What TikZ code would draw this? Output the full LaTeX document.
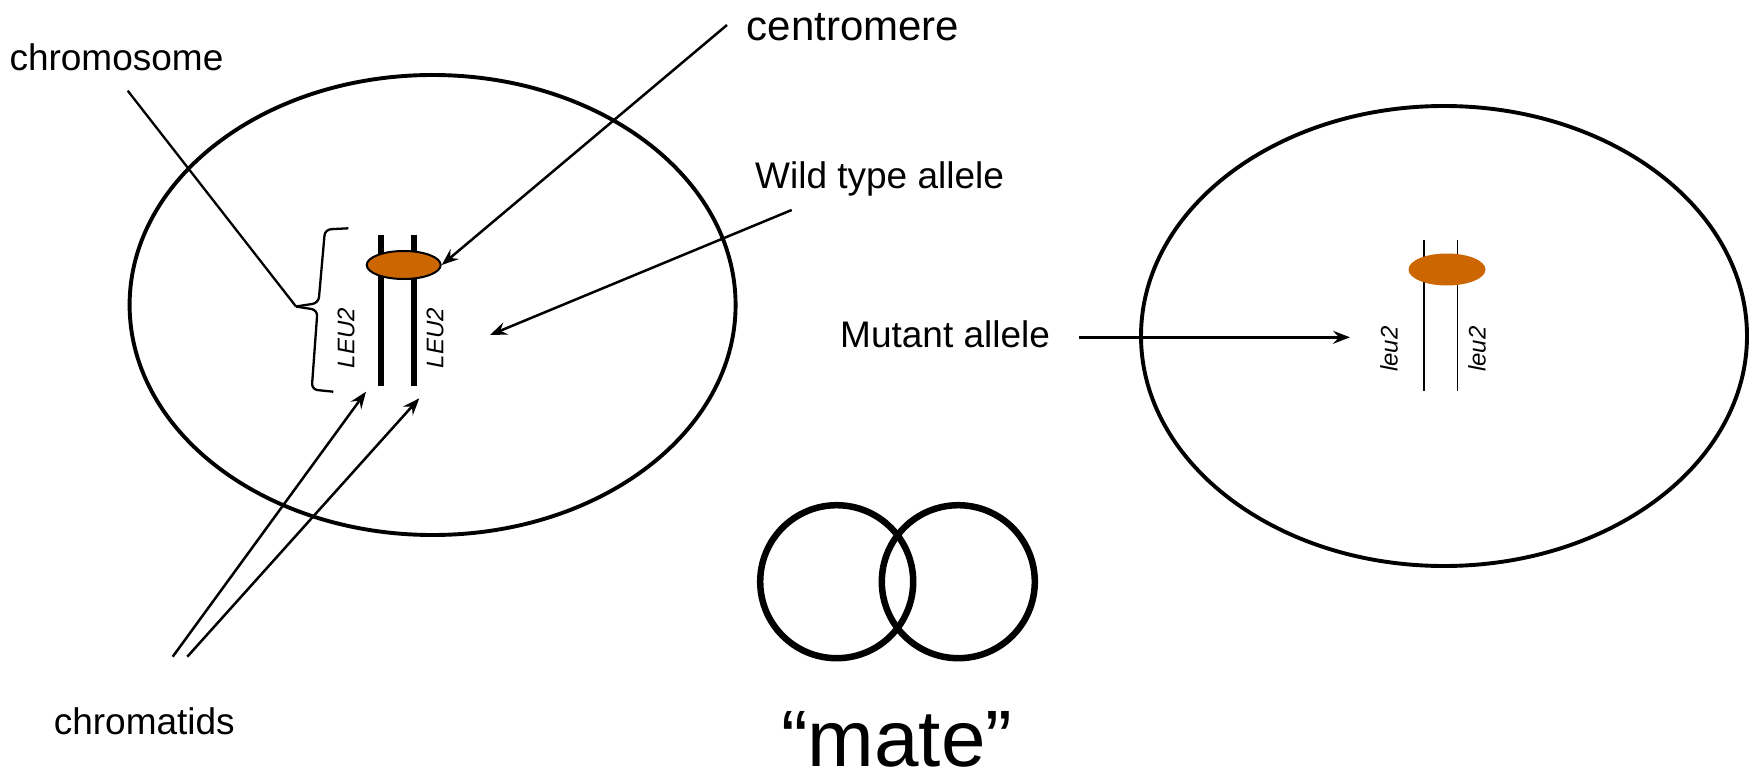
\documentclass[tikz,border=0pt]{standalone}
\usepackage{fontspec}
\setmainfont{Liberation Sans}
\usetikzlibrary{shapes.geometric,arrows.meta}
\definecolor{centro}{HTML}{CC6600}

\begin{document}
\begin{tikzpicture}[x=1pt,y=-1pt,
  lbl/.style={inner sep=0pt, anchor=base west, font=\fontsize{37}{44}\selectfont},
  gene/.style={inner sep=0pt, rotate=90, font=\fontsize{24}{28}\selectfont\itshape},
  cell/.style={draw, ellipse, line width=3.9pt, minimum width=606pt, minimum height=460pt, inner sep=0pt},
  ptr/.style={line width=2.5pt, -{Stealth[length=17pt,width=13pt,inset=6pt]}},
  thin line/.style={line width=2.3pt},
  ring/.style={draw, circle, line width=6.5pt, minimum size=153pt, inner sep=0pt}
]
\useasboundingbox (0,0) rectangle (1752,778);

% the two cells
\node[cell] (cellA) at (432.6,305) {};
\node[cell] (cellB) at (1444,336) {};

% chromatids of the wild type cell
\coordinate (a1top) at (381,235);  \coordinate (a1bot) at (381,386);
\coordinate (a2top) at (414,235);  \coordinate (a2bot) at (414,386);
\draw[line width=5.7pt] (a1top) -- (a1bot);
\draw[line width=5.7pt] (a2top) -- (a2bot);
\node[ellipse, draw, line width=2pt, fill=centro, minimum width=74pt, minimum height=28pt, inner sep=0pt] (cenA) at (403.7,265) {};

% chromatids of the mutant cell
\coordinate (b1top) at (1424.3,240); \coordinate (b1bot) at (1424.3,390.7);
\coordinate (b2top) at (1457.3,240); \coordinate (b2bot) at (1457.3,390.7);
\draw[line width=1.9pt] (b1top) -- (b1bot);
\draw[line width=1.5pt] (b2top) -- (b2bot);
\node[ellipse, fill=centro, minimum width=77pt, minimum height=32pt, inner sep=0pt] (cenB) at (1447,269.5) {};

% gene labels
\node[gene] (leuA1) at (346,338) {LEU2};
\node[gene] (leuA2) at (435,338) {LEU2};
\node[gene] (leuB1) at (1389,349) {leu2};
\node[gene] (leuB2) at (1477,349) {leu2};

% brace around the chromosome
\coordinate (bracetip) at (296,306.5);
\draw[thin line, rounded corners=6pt] (348.3,228.3) -- (325,229.5) -- (318.5,303) -- (bracetip);
\draw[thin line, rounded corners=6pt] (bracetip) -- (317.5,310) -- (311.7,389.5) -- (333.3,391.7);

% labels
\node[lbl] (chromosome) at (9.3,70.7) {chromosome};
\node[lbl, font=\fontsize{42}{50}\selectfont] (centromere) at (746.7,40.7) {centromere};
\node[lbl] (wild) at (755,189) {Wild type allele};
\node[lbl] (mutant) at (840,347) {Mutant allele};
\node[lbl] (chromatids) at (53.6,734) {chromatids};

% connectors
\coordinate (chromfoot) at (127.7,90.7);
\draw[thin line] (chromfoot) -- (bracetip);

\coordinate (cenfoot) at (727,25);
\draw[ptr] (cenfoot) -- (cenA.east);

\coordinate (wildfoot) at (791.7,210);
\coordinate (wildtip) at (490,335);
\draw[ptr] (wildfoot) -- (wildtip);

\coordinate (mutfoot) at (1079.3,337.3);
\coordinate (muttip) at (1350,337.3);
\draw[ptr] (mutfoot) -- (muttip);

\coordinate (ctfoot1) at (172.7,656.7);
\coordinate (cttip1) at (366,391.7);
\coordinate (ctfoot2) at (187.3,656.7);
\coordinate (cttip2) at (419.3,398.3);
\draw[ptr] (ctfoot1) -- (cttip1);
\draw[ptr] (ctfoot2) -- (cttip2);

% mating symbol
\node[ring] (ringL) at (836.7,581.7) {};
\node[ring] (ringR) at (958.3,581.7) {};
\node[inner sep=0pt, anchor=base, font=\fontsize{80}{96}\selectfont] (mate) at (896.7,766) {“mate”};
\end{tikzpicture}
\end{document}
